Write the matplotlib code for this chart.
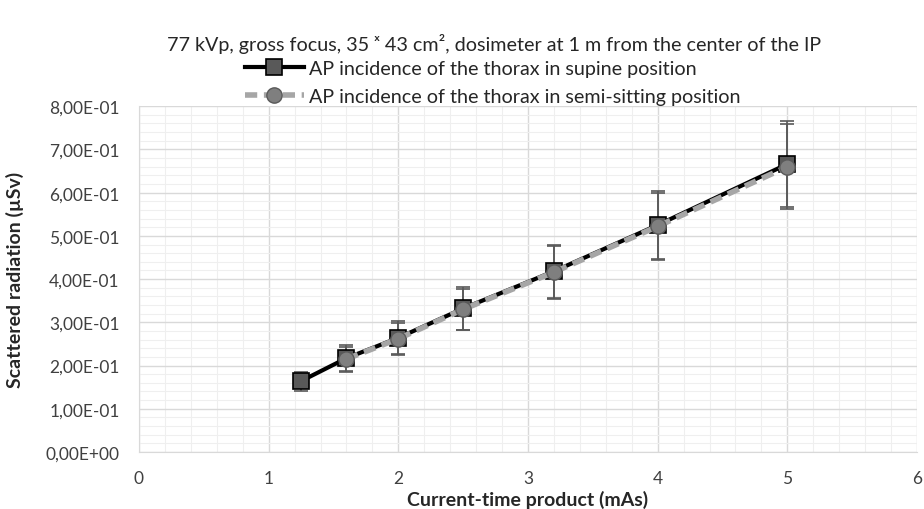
import numpy as np
import matplotlib
matplotlib.use("Agg")
import matplotlib.pyplot as plt
from matplotlib.ticker import MultipleLocator, FuncFormatter

plt.rcParams["font.family"] = ["Lato", "DejaVu Sans"]

# data
SUP_X = np.array([1.25, 1.6, 2.0, 2.5, 3.2, 4.0, 5.0])  # mAs
SUP_Y = np.array([0.164, 0.217, 0.264, 0.332, 0.418, 0.525, 0.666])  # uSv
SUP_ERR = np.array([0.022, 0.030, 0.038, 0.049, 0.062, 0.079, 0.100])

SEMI_X = np.array([1.6, 2.0, 2.5, 3.2, 4.0, 5.0])  # mAs
SEMI_Y = np.array([0.215, 0.262, 0.330, 0.416, 0.522, 0.660])  # uSv
SEMI_ERR = np.array([0.029, 0.037, 0.048, 0.061, 0.078, 0.098])

TITLE = "77 kVp, gross focus, 35 \u02e3 43 cm\u00b2, dosimeter at 1 m from the center of the IP"
LAB_SUP = "AP incidence of the thorax in supine position"
LAB_SEMI = "AP incidence of the thorax in semi-sitting position"


def sci_comma(v, pos):
    return f"{v:.2E}".replace(".", ",")


fig = plt.figure(figsize=(9.24, 5.1), dpi=100)
ax = fig.add_axes([0.1504, 0.1118, 0.842, 0.678])

ax.errorbar(SUP_X, SUP_Y, yerr=SUP_ERR, fmt="none", ecolor="#595959",
            elinewidth=1.2, capsize=5, capthick=1.2, zorder=3)
ax.errorbar(SEMI_X, SEMI_Y, yerr=SEMI_ERR, fmt="none", ecolor="#595959",
            elinewidth=1.2, capsize=5, capthick=1.2, zorder=3)
ax.plot(SUP_X, SUP_Y, "-", color="black", lw=3, marker="s", ms=12,
        mfc="#595959", mec="black", mew=1.2, label=LAB_SUP, zorder=4)
ax.plot(SEMI_X, SEMI_Y, "--", color="#a6a6a6", lw=4, dashes=(2.2, 1.2),
        marker="o", ms=11, mfc="#7f7f7f", mec="#595959", mew=1.0,
        label=LAB_SEMI, zorder=5)

ax.set_xlim(0, 6)
ax.set_ylim(0, 0.8)
ax.xaxis.set_major_locator(MultipleLocator(1))
ax.xaxis.set_minor_locator(MultipleLocator(0.2))
ax.yaxis.set_major_locator(MultipleLocator(0.1))
ax.yaxis.set_minor_locator(MultipleLocator(0.02))
ax.yaxis.set_major_formatter(FuncFormatter(sci_comma))
ax.grid(which="major", color="#d9d9d9", lw=1.0)
ax.grid(which="minor", color="#efefef", lw=0.8)
ax.set_axisbelow(True)
ax.tick_params(which="both", length=0, labelsize=12.5, colors="#404040")
ax.tick_params(axis="y", pad=14)
ax.tick_params(axis="x", pad=13)
for s in ["top", "right"]:
    ax.spines[s].set_visible(False)
for s in ["left", "bottom"]:
    ax.spines[s].set_color("#d9d9d9")

ax.set_xlabel("Current-time product (mAs)", fontsize=14, fontweight="bold",
              color="#262626")
ax.set_ylabel("Scattered radiation (\u00b5Sv)", fontsize=14, fontweight="bold",
              color="#262626")
ax.xaxis.set_label_coords(0.5, -0.11)
ax.yaxis.set_label_coords(-0.148, 0.5)

fig.text(0.535, 0.914, TITLE, ha="center", va="center", fontsize=14.2, color="#262626")
fig.legend(loc="center", bbox_to_anchor=(0.533, 0.836), ncol=1, frameon=False,
           fontsize=14.2, handlelength=3.0, handletextpad=0.25, labelspacing=0.55,
           borderaxespad=0, borderpad=0, labelcolor="#262626")

fig.savefig("out.png", dpi=100)
